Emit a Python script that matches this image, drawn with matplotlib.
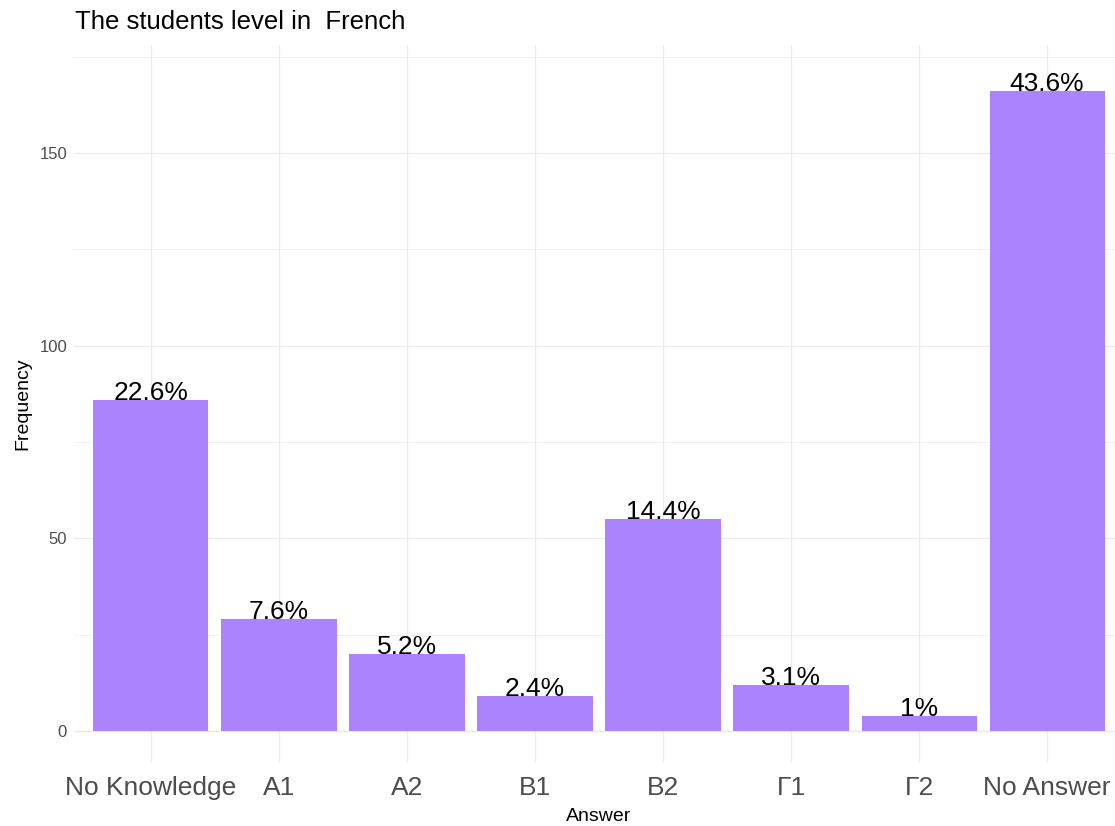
import matplotlib
matplotlib.use("Agg")
import matplotlib.pyplot as plt
from matplotlib.ticker import MultipleLocator

plt.rcParams["font.family"] = ["Liberation Sans", "DejaVu Sans"]

answers = ["No Knowledge", "A1", "A2", "B1", "B2", "Γ1", "Γ2", "No Answer"]
counts = [86, 29, 20, 9, 55, 12, 4, 166]
pct_labels = ["22.6%", "7.6%", "5.2%", "2.4%", "14.4%", "3.1%", "1%", "43.6%"]

BAR = "#AB82FF"
GRID = "#EBEBEB"
TICK = "#4D4D4D"

fig = plt.figure(figsize=(11.15, 8.26), dpi=100, facecolor="white")
ax = fig.add_axes([74 / 1115, 64 / 826, 1050 / 1115, 717 / 826])

x = range(len(answers))
ax.bar(x, counts, width=0.9, color=BAR, zorder=2)
for xi, c, lab in zip(x, counts, pct_labels):
    ax.text(xi, c, lab, ha="center", va="baseline", fontsize=19, color="black", zorder=3)

ax.set_xlim(-0.6, len(answers) - 0.4)
ax.set_ylim(-8, 178)
ax.set_xticks(list(x))
ax.set_xticklabels(answers, fontsize=19, color=TICK)
ax.yaxis.set_major_locator(MultipleLocator(50))
ax.yaxis.set_minor_locator(MultipleLocator(25))
ax.tick_params(axis="y", labelsize=12, labelcolor=TICK, length=0, pad=5)
ax.tick_params(axis="y", which="minor", length=0)
ax.tick_params(axis="x", length=0, pad=10)

ax.grid(True, which="major", color=GRID, linewidth=0.9, zorder=0)
ax.grid(True, which="minor", axis="y", color=GRID, linewidth=0.5, zorder=0)
ax.set_axisbelow(True)
for s in ax.spines.values():
    s.set_visible(False)

ax.set_xlabel("Answer", fontsize=14, labelpad=6)
ax.set_ylabel("Frequency", fontsize=14, labelpad=6)
fig.text(75 / 1115, 1 - 22 / 826, "The students level in  French", fontsize=18.5,
         ha="left", va="center")

fig.savefig("out.png", dpi=100, facecolor="white")
